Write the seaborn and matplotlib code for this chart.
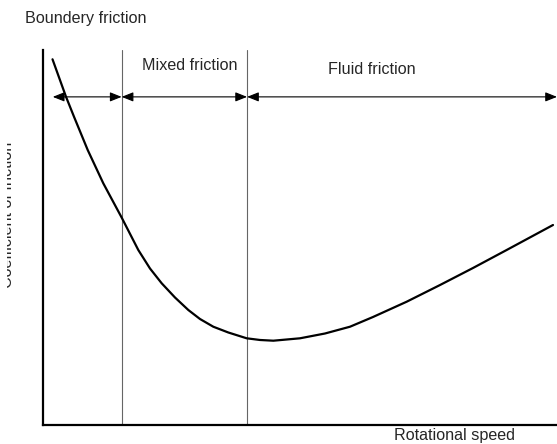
import matplotlib
matplotlib.use("Agg")
import matplotlib.pyplot as plt
import seaborn as sns
import pandas as pd
from matplotlib.transforms import Bbox

# Stribeck curve (arbitrary units, 0-10 both axes)
speed = [0.185, 0.447, 0.603, 0.870, 1.173, 1.531, 1.854, 2.082, 2.309, 2.568,
         2.827, 3.054, 3.313, 3.605, 3.963, 4.222, 4.481, 5.000, 5.486, 5.973,
         6.420, 7.076, 7.724, 8.366, 9.021, 9.922]
friction = [9.752, 8.755, 8.221, 7.333, 6.445, 5.530, 4.667, 4.173, 3.779, 3.400,
            3.067, 2.827, 2.621, 2.467, 2.312, 2.267, 2.248, 2.312, 2.440, 2.621,
            2.880, 3.288, 3.733, 4.187, 4.667, 5.333]

# regime boundaries and labels
boundaries = [1.53, 3.97]
regime_start = [0.19, 1.53, 3.97]
regime_end = [1.53, 3.97, 10.0]
regime_labels = ["Boundery friction", "Mixed friction", "Fluid friction"]
arrow_level = 8.75

x_label = "Rotational speed"
y_label = "Coefficient of friction"

sns.set_style("white")
plt.rcParams['font.family'] = ['Liberation Sans', 'DejaVu Sans']

W, H = 557, 444
fig = plt.figure(figsize=(W / 100, H / 100), dpi=100)
ax = fig.add_axes([43 / W, 19 / H, 514 / W, 375 / H])

df = pd.DataFrame({"speed": speed, "friction": friction})

for b in boundaries:
    ax.axvline(b, color="#666666", lw=0.8, zorder=1)

sns.lineplot(data=df, x="speed", y="friction", ax=ax, color="black",
             lw=1.6, sort=False, zorder=3, solid_joinstyle="round")

for s, e in zip(regime_start, regime_end):
    ax.annotate("", xy=(e, arrow_level), xytext=(s, arrow_level),
                xycoords="data", textcoords="data", annotation_clip=False,
                arrowprops=dict(arrowstyle="<|-|>,head_length=0.5,head_width=0.2",
                                mutation_scale=14, color="black", lw=0.8,
                                shrinkA=0, shrinkB=0), zorder=4)

ax.set_xlim(0, 10)
ax.set_ylim(0, 10)
ax.set_xticks([])
ax.set_yticks([])
ax.set_xlabel("")
ax.set_ylabel("")
sns.despine(ax=ax)
for sp in ["left", "bottom"]:
    ax.spines[sp].set_color("black")
    ax.spines[sp].set_linewidth(1.6)

fs = 11.6
fig.text(25 / W, 1 - 23.5 / H, regime_labels[0], fontsize=fs, ha="left", va="baseline")
fig.text(189.5 / W, 1 - 70.5 / H, regime_labels[1], fontsize=fs, ha="center", va="baseline")
fig.text(371.5 / W, 1 - 74 / H, regime_labels[2], fontsize=fs, ha="center", va="baseline")
fig.text(455 / W, 1 - 440 / H, x_label, fontsize=fs, ha="center", va="baseline")

yl = fig.text(12.5 / W, 1 - 215 / H, y_label, fontsize=fs, rotation=90,
              rotation_mode="anchor", ha="center", va="baseline")
yl.set_clip_box(Bbox([[7, 0], [W, H]]))
yl.set_clip_on(True)

fig.savefig("out.png", dpi=100)
